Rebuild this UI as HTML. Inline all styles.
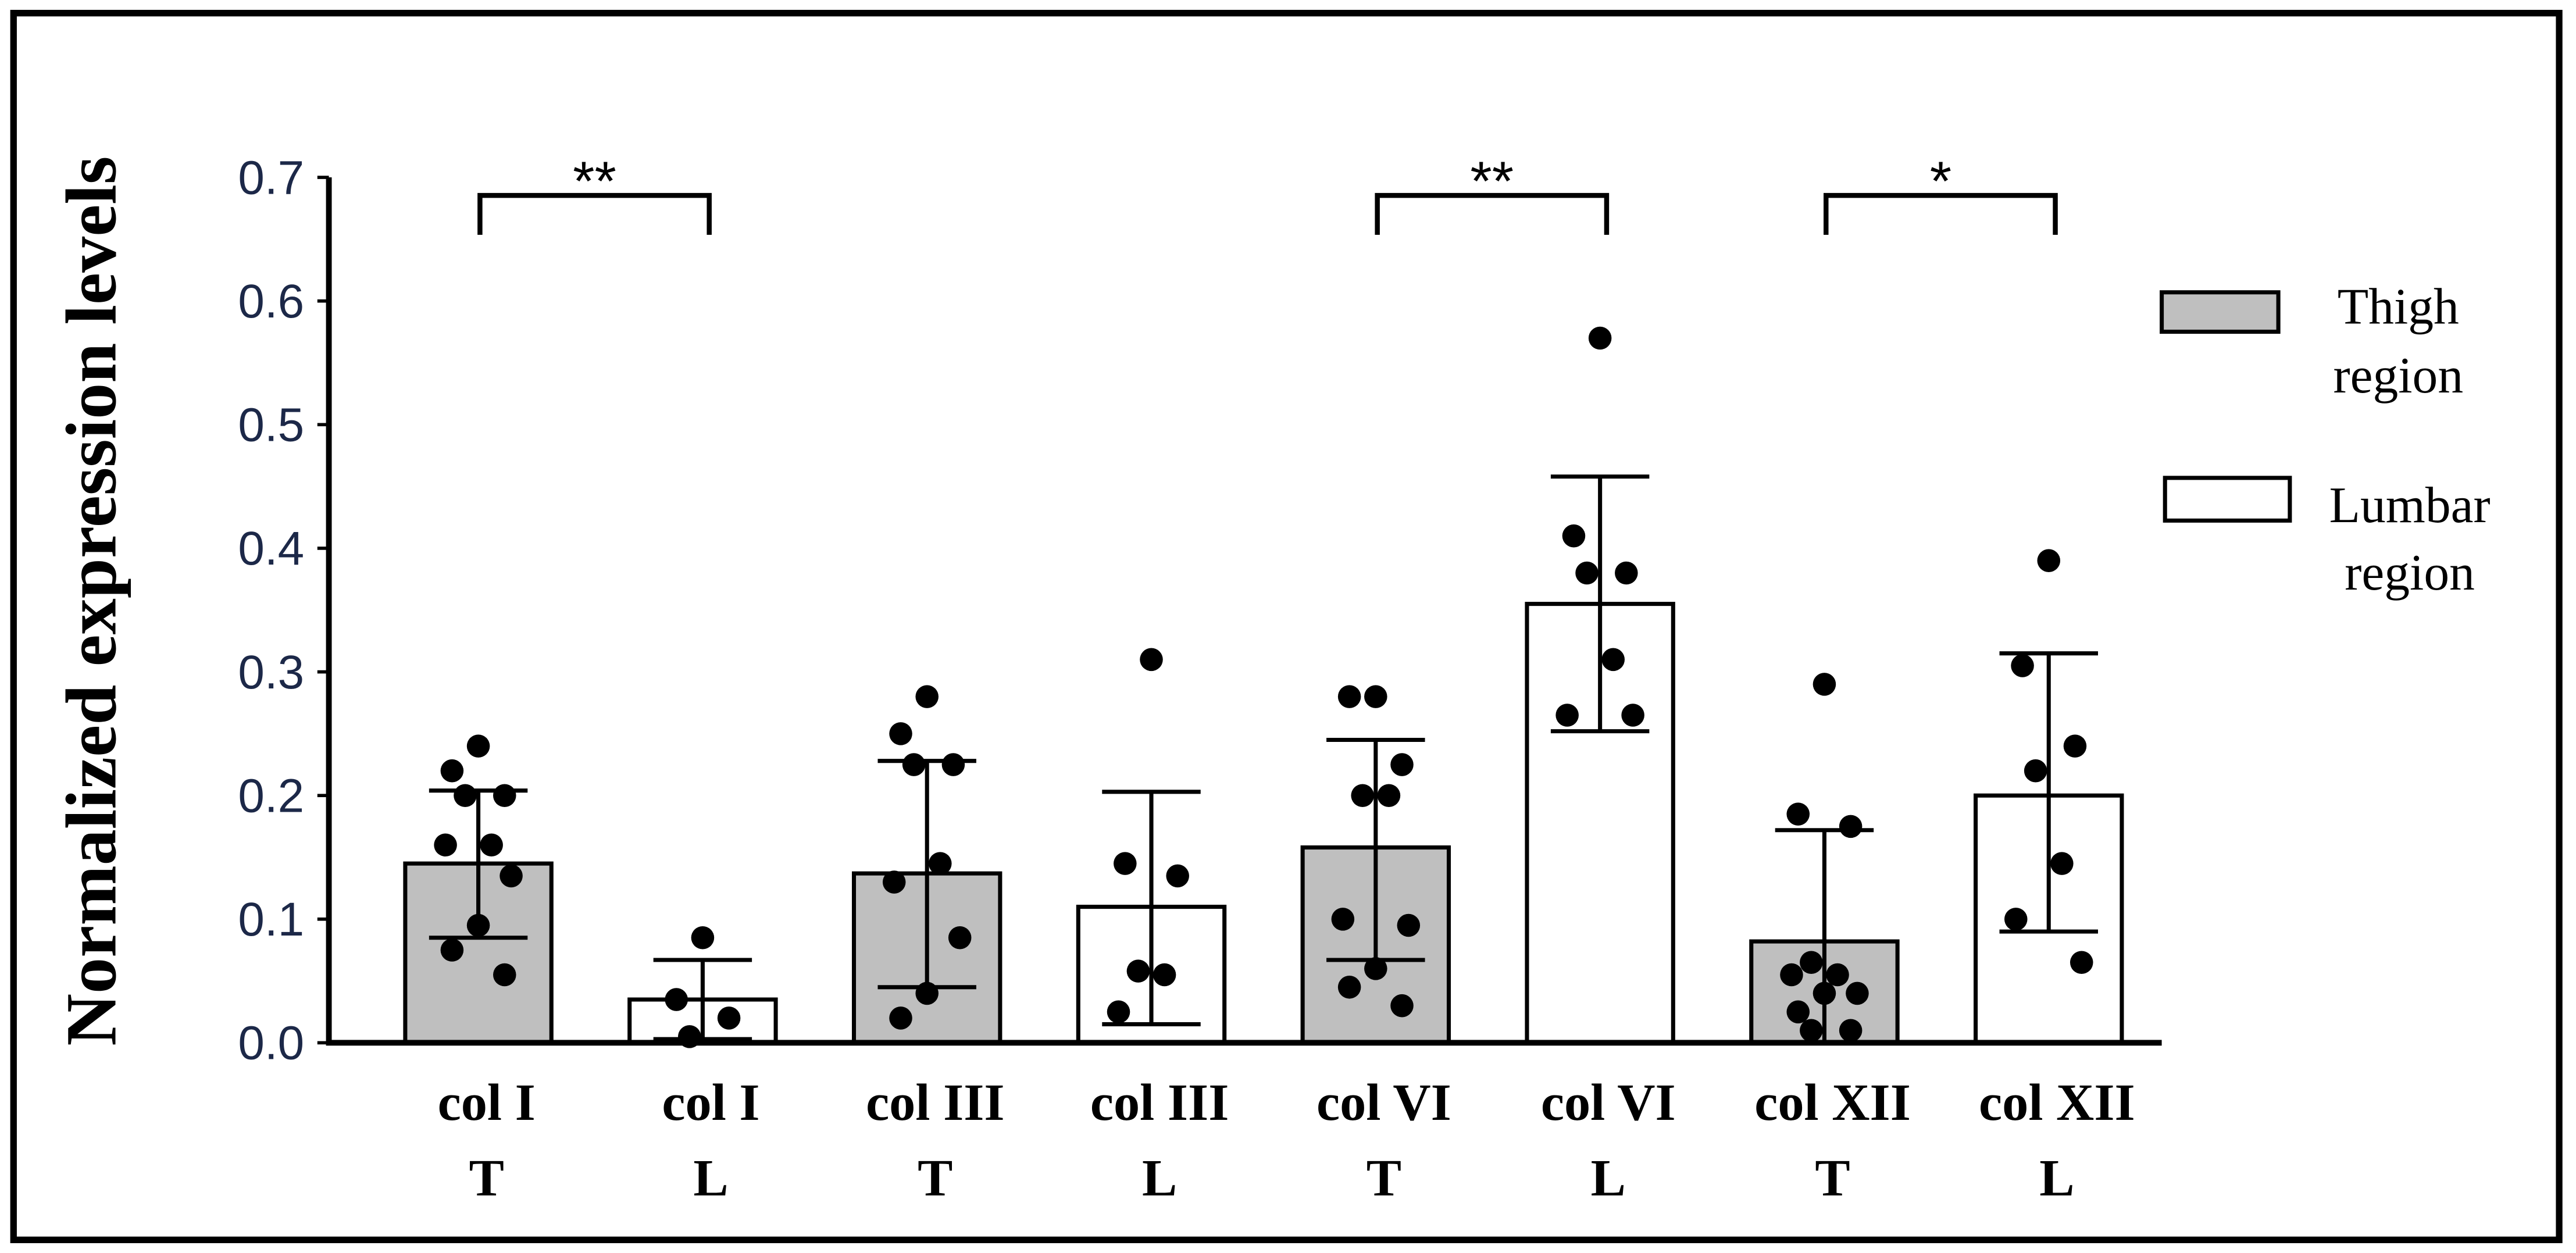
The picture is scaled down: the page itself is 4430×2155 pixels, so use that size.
<!DOCTYPE html>
<html><head><meta charset="utf-8"><style>html,body{margin:0;padding:0;background:#fff}svg{display:block}</style></head>
<body>
<svg xmlns="http://www.w3.org/2000/svg" width="4430" height="2155" viewBox="0 0 1568 763">
<rect x="8" y="8" width="1550" height="747" fill="#fff" stroke="#000" stroke-width="4"/>
<g id="plot"></g>
<text transform="translate(70,366) rotate(-90)" text-anchor="middle" font-family="Liberation Serif, serif" font-weight="bold" font-size="44">Normalized expression levels</text>
<g font-family="Liberation Serif, serif" font-size="31" text-anchor="middle">
<rect x="1316" y="178" width="71" height="24" fill="#bfbfbf" stroke="#000" stroke-width="2.5"/>
<text x="1460" y="197">Thigh</text>
<text x="1460" y="239">region</text>
<rect x="1318" y="291" width="76" height="26" fill="#fff" stroke="#000" stroke-width="2.5"/>
<text x="1467" y="318">Lumbar</text>
<text x="1467" y="359">region</text>
</g>
</svg>
<script>
const categories=["col I|T","col I|L","col III|T","col III|L","col VI|T","col VI|L","col XII|T","col XII|L"];
const means=[0.145,0.035,0.137,0.11,0.158,0.355,0.082,0.2];
const errLow=[0.085,0.003,0.045,0.015,0.067,0.252,-0.01,0.09];
const errHigh=[0.204,0.067,0.228,0.203,0.245,0.458,0.172,0.315];
const points=[
[0.24,0.22,0.2,0.2,0.16,0.16,0.135,0.095,0.075,0.055],
[0.085,0.035,0.02,0.005],
[0.28,0.25,0.225,0.225,0.145,0.13,0.085,0.04,0.02],
[0.31,0.145,0.135,0.058,0.055,0.025],
[0.28,0.28,0.225,0.2,0.2,0.1,0.095,0.06,0.045,0.03],
[0.57,0.41,0.38,0.38,0.31,0.265,0.265],
[0.29,0.185,0.175,0.065,0.055,0.055,0.04,0.04,0.025,0.01,0.01],
[0.39,0.305,0.24,0.22,0.145,0.1,0.065]];
const yTicks=["0.0","0.1","0.2","0.3","0.4","0.5","0.6","0.7"];
const sigPairs=[[0,1,"**"],[4,5,"**"],[6,7,"*"]];
const NS="http://www.w3.org/2000/svg";
const g=document.getElementById("plot");
const y=v=>635-v/0.7*527;
const xc=i=>291+i*136.6;
function mk(t,a,p){const e=document.createElementNS(NS,t);for(const k in a)e.setAttribute(k,a[k]);(p||g).appendChild(e);return e;}
yTicks.forEach((t,i)=>{const v=parseFloat(t);
 const l=mk("line",{x1:193,x2:200,y1:y(v),y2:y(v),stroke:"#000","stroke-width":2});
 
 
 const tx=mk("text",{x:185,y:y(v)+10,"text-anchor":"end","font-family":"Liberation Sans, sans-serif","font-size":29,fill:"#1c2848"});
 
 
 tx.textContent=t;});
categories.forEach((c,i)=>{const cx=xc(i),w=89,thigh=i%2==0;
 const b=mk("rect",{x:cx-w/2,y:y(means[i]),width:w,height:y(0)-y(means[i]),fill:thigh?"#bfbfbf":"#fff",stroke:"#000","stroke-width":2.5});
 
 
 const lo=Math.max(errLow[i],0);
 const e=mk("line",{x1:cx,x2:cx,y1:y(errHigh[i]),y2:y(lo),stroke:"#000","stroke-width":2.5});
 
 
 mk("line",{x1:cx-30,x2:cx+30,y1:y(errHigh[i]),y2:y(errHigh[i]),stroke:"#000","stroke-width":2.5});
 if(errLow[i]>0)mk("line",{x1:cx-30,x2:cx+30,y1:y(errLow[i]),y2:y(errLow[i]),stroke:"#000","stroke-width":2.5});
 points[i].forEach((v,j)=>{const off=[0,-16,16,-8,8,-20,20][j%7];
  const d=mk("circle",{cx:cx+off,cy:y(v),r:7,fill:"#000"});
  
  });
 const [a,bb]=c.split("|");
 const t=mk("text",{x:cx+5,y:682,"text-anchor":"middle","font-family":"Liberation Serif, serif","font-weight":"bold","font-size":32});
 
 
 t.textContent=a;
 const t2=mk("text",{x:cx+5,y:728,"text-anchor":"middle","font-family":"Liberation Serif, serif","font-weight":"bold","font-size":32});
 
 
 t2.textContent=bb;});
const ax=mk("path",{d:"M200 108 V635 H1316",fill:"none",stroke:"#000","stroke-width":3.5});


sigPairs.forEach(([a,b,s])=>{const x1=xc(a)+1,x2=xc(b)+4;
 const p=mk("path",{d:`M${x1} 143 V119 H${x2} V143`,fill:"none",stroke:"#000","stroke-width":3});
 
 
 const t=mk("text",{x:(x1+x2)/2,y:122,"text-anchor":"middle","font-family":"Liberation Sans, sans-serif","font-size":34});
 
 
 t.textContent=s;});
</script>
</body></html>
